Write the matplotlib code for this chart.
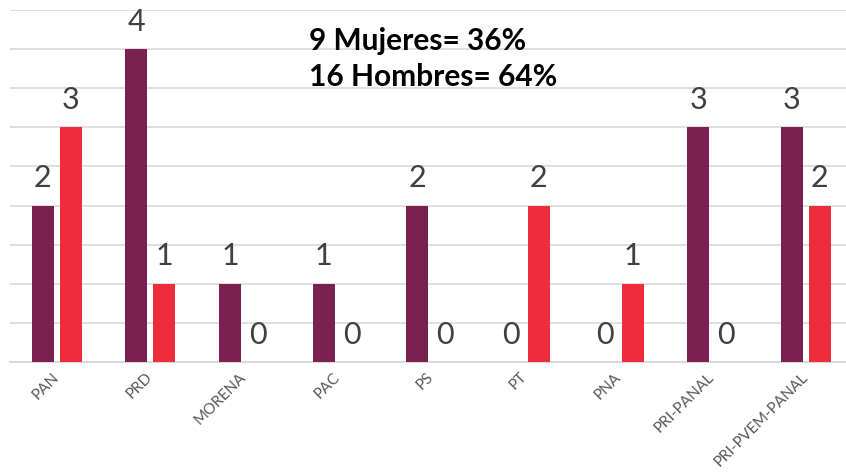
import matplotlib
matplotlib.use("Agg")
import matplotlib.pyplot as plt
import matplotlib.transforms as mtransforms
import numpy as np

categories = ["PAN", "PRD", "MORENA", "PAC", "PS", "PT", "PNA", "PRI-PANAL", "PRI-PVEM-PANAL"]
mujeres = [2, 4, 1, 1, 2, 0, 0, 3, 3]
hombres = [3, 1, 0, 0, 0, 2, 1, 0, 2]
note_lines = ["9 Mujeres= 36%", "16 Hombres= 64%"]

purple = "#7B2150"
red = "#EE2C3C"
gray = "#404040"

plt.rcParams['font.family'] = ['Lato', 'DejaVu Sans']

fig = plt.figure(figsize=(8.46, 4.76), dpi=100)
ax = fig.add_axes([10/846, 1 - 362/476, 836/846, 352/476])

x = np.arange(len(categories))
w = 0.235
off = 0.15
ax.bar(x - off, mujeres, w, color=purple, zorder=3)
ax.bar(x + off, hombres, w, color=red, zorder=3)

for xi, v in zip(x - off, mujeres):
    ax.text(xi, v + 0.17, str(v), ha='center', va='bottom', fontsize=22,
            color=gray, fontweight='normal')
for xi, v in zip(x + off, hombres):
    ax.text(xi, v + 0.17, str(v), ha='center', va='bottom', fontsize=22,
            color=gray, fontweight='normal')

ax.set_ylim(0, 4.5)
ax.set_xlim(-0.5, 8.43)
ax.set_yticks(np.arange(0, 4.51, 0.5))
ax.yaxis.grid(True, color='#D9D9D9', linewidth=1.2, zorder=0)
ax.tick_params(left=False, labelleft=False, bottom=False)
for s in ['top', 'right', 'left']:
    ax.spines[s].set_visible(False)
ax.spines['bottom'].set_color('#D9D9D9')
ax.spines['bottom'].set_linewidth(1.5)

ax.set_xticks(x)
ax.set_xticklabels(categories, rotation=45, ha='right', va='top', fontsize=11,
                   color='#595959', fontweight='normal', rotation_mode='anchor')
offset = mtransforms.ScaledTranslation(-5/100, 2/100, fig.dpi_scale_trans)
for lbl in ax.get_xticklabels():
    lbl.set_transform(lbl.get_transform() + offset)

fig.text(309/846, 1 - 41/476, note_lines[0], fontsize=21.5, fontweight='bold',
         color='black', va='center', ha='left')
fig.text(309/846, 1 - 77/476, note_lines[1], fontsize=21.5, fontweight='bold',
         color='black', va='center', ha='left')

fig.savefig("out.png", dpi=100)
